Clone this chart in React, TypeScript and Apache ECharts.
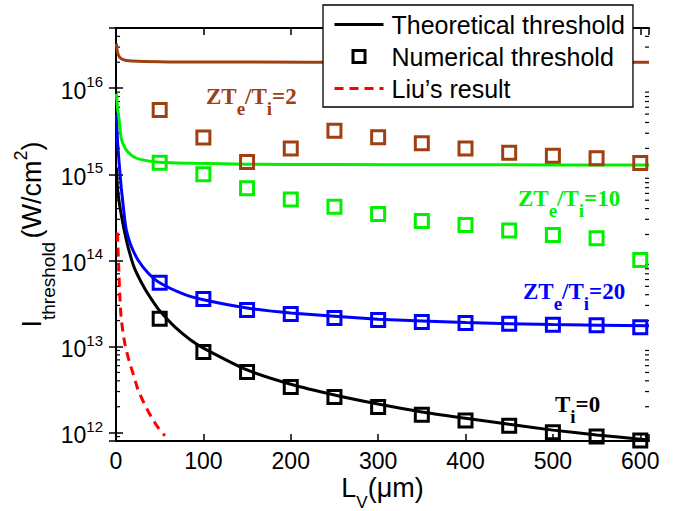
import React, { useEffect, useRef } from 'react';
import * as echarts from 'echarts';

// Vacuum length L_V (µm) at which the numerical thresholds were computed
const numericalL = [50, 100, 150, 200, 250, 300, 350, 400, 450, 500, 550, 600];

// Numerical thresholds (W/cm^2)
const numericalTi0 = [2.1e13, 8.65e12, 5.07e12, 3.4e12, 2.6e12, 1.99e12, 1.61e12, 1.38e12, 1.2e12, 1.01e12, 9.0e11, 8.1e11];
const numericalZ20 = [5.5e13, 3.57e13, 2.66e13, 2.39e13, 2.15e13, 2.04e13, 1.93e13, 1.88e13, 1.84e13, 1.79e13, 1.77e13, 1.68e13];
const numericalZ10 = [1.36e15, 1.0e15, 6.9e14, 5.1e14, 4.2e14, 3.45e14, 2.86e14, 2.57e14, 2.22e14, 1.98e14, 1.81e14, 1.01e14];
const numericalZ2 = [5.6e15, 2.67e15, 1.39e15, 2.0e15, 3.2e15, 2.7e15, 2.3e15, 2.0e15, 1.78e15, 1.64e15, 1.54e15, 1.35e15];

// Theoretical threshold curves: [L_V, I]
const theoryTi0 = [
  [0.5, 1.2e15], [1, 9e14], [2, 6.5e14], [4, 4.5e14], [7, 3e14], [10, 2.1e14], [14, 1.4e14],
  [21, 8.2e13], [33, 4.7e13], [44, 3.15e13], [50, 2.6e13], [67, 1.7e13], [85, 1.2e13],
  [100, 9.6e12], [150, 5.35e12], [200, 3.65e12], [250, 2.74e12], [300, 2.15e12], [350, 1.74e12],
  [400, 1.47e12], [450, 1.25e12], [500, 1.07e12], [550, 9.4e11], [600, 8.4e11], [610, 8.2e11],
];
const theoryZ20 = [
  [0.5, 5e15], [1, 3.5e15], [2, 2.2e15], [4, 1.2e15], [6, 7e14], [10, 3e14], [12, 2.2e14],
  [17, 1.5e14], [25, 1.02e14], [37, 7.1e13], [50, 5.5e13], [79, 4.0e13], [100, 3.5e13],
  [150, 2.8e13], [200, 2.45e13], [300, 2.08e13], [400, 1.9e13], [500, 1.8e13], [610, 1.74e13],
];
const theoryZ10 = [
  [0.5, 8.6e15], [1, 7.2e15], [2, 5.6e15], [3.4, 4.5e15], [6, 2.6e15], [10, 2.05e15], [14, 1.8e15],
  [20, 1.6e15], [29, 1.48e15], [50, 1.38e15], [90, 1.34e15], [150, 1.31e15], [250, 1.3e15],
  [400, 1.29e15], [610, 1.28e15],
];
const theoryZ2 = [
  [0.5, 3.3e16], [1, 2.9e16], [2, 2.55e16], [4, 2.3e16], [7, 2.18e16], [12, 2.1e16], [25, 2.05e16],
  [60, 2.02e16], [150, 2.01e16], [300, 2.0e16], [450, 2.0e16], [610, 2.0e16],
];

// Liu's analytical result: [L_V, I]
const liuResult = [
  [1.5, 2.1e14], [3, 9e13], [4.2, 4.2e13], [6, 2.1e13], [10, 1.1e13], [15, 6.8e12], [20, 4.7e12],
  [25, 3.2e12], [32, 2.2e12], [40, 1.55e12], [48, 1.15e12], [56, 9.2e11],
];

// Axis ranges and labelled decades
const xRange = [0, 610];
const yRange = [8e11, 5e16];
const yDecades = [12, 13, 14, 15, 16];

const BROWN = '#a04010';
const GREEN = '#00f000';
const BLUE = '#0000ff';
const BLACK = '#000000';
const RED = '#ff0000';

const SANS = '"Liberation Sans", Arial, Helvetica, sans-serif';
const SERIF = '"Liberation Serif", "Times New Roman", serif';

// Minor log ticks (2..9 x 10^n) inside the plotting box
const minorTicks: number[][] = [];
for (let e = 11; e <= 16; e++) {
  for (let m = 2; m <= 9; m++) {
    const v = m * Math.pow(10, e);
    if (v > yRange[0] && v < yRange[1]) minorTicks.push([0, v]);
  }
}

const pairs = (xs: number[], ys: number[]) => xs.map((x, i) => [x, ys[i]]);

const annotationRich = (color: string) => ({
  m: { fontSize: 23, fontWeight: 'bold', fontFamily: SERIF, fill: color, color, verticalAlign: 'top' },
  s: { fontSize: 19, fontWeight: 'bold', fontFamily: SERIF, fill: color, color, verticalAlign: 'top', padding: [14, 0, 0, 0] },
});

const annotation = (text: string, color: string, left: number, top: number) => ({
  type: 'text',
  left,
  top,
  z: 10,
  style: { text, rich: annotationRich(color), fill: color, font: `bold 23px ${SERIF}` },
});

const lineSeries = (name: string, data: number[][], color: string) => ({
  name,
  type: 'line',
  data,
  symbol: 'none',
  smooth: 0.2,
  lineStyle: { color, width: 3 },
  itemStyle: { color },
  z: 3,
});

const squareSeries = (name: string, ys: number[], color: string) => ({
  name,
  type: 'scatter',
  data: pairs(numericalL, ys),
  symbol: 'rect',
  symbolSize: 13,
  itemStyle: { color: 'rgba(0,0,0,0)', borderColor: color, borderWidth: 3, opacity: 1 },
  z: 4,
});

const yLabelFormatter = (v: number) => {
  const e = Math.log10(v);
  const r = Math.round(e);
  if (Math.abs(e - r) < 1e-6 && yDecades.includes(r)) return `{b|10}{p|${r}}`;
  return '';
};

export default function App() {
  const ref = useRef<HTMLDivElement>(null);

  useEffect(() => {
    if (!ref.current) return;
    const chart = echarts.init(ref.current, null, { renderer: 'svg' });

    const axisLine = { show: true, lineStyle: { color: BLACK, width: 2 } };
    const majorTick = { show: true, inside: true, length: 7, lineStyle: { color: BLACK, width: 1.5 } };

    chart.setOption({
      animation: false,
      backgroundColor: '#fff',
      grid: { left: 116, right: 31, top: 28, bottom: 70, containLabel: false, outerBoundsMode: 'none' },
      legend: {
        data: [
          {
            name: 'Theoretical threshold',
            itemStyle: { opacity: 0 },
            lineStyle: { width: 3, color: BLACK },
          },
          {
            name: 'Numerical threshold',
            icon: 'path://M0,0H10V10H0Z',
            itemStyle: { color: 'rgba(0,0,0,0)', borderColor: BLACK, borderWidth: 3, opacity: 1 },
          },
          {
            name: 'Liu’s result',
            itemStyle: { opacity: 0 },
            lineStyle: { width: 3, color: RED, type: [9, 6] },
          },
        ],
        orient: 'vertical',
        left: 323,
        top: 5,
        padding: [7, 8, 6, 10],
        itemGap: 7,
        itemWidth: 49,
        itemHeight: 12,
        backgroundColor: '#fff',
        borderColor: BLACK,
        borderWidth: 1.3,
        borderRadius: 0,
        selectedMode: false,
        textStyle: { fontSize: 25, fontFamily: SANS, color: BLACK, padding: [0, 0, 0, 3] },
        z: 20,
      },
      xAxis: [
        {
          type: 'value',
          min: xRange[0],
          max: xRange[1],
          interval: 100,
          axisLine,
          axisTick: majorTick,
          splitLine: { show: false },
          axisLabel: {
            fontSize: 23,
            fontFamily: SANS,
            color: BLACK,
            margin: 8,
            formatter: (v: number) => (v % 100 === 0 ? String(v) : ''),
          },
          name: '{m|L}{s|V}{m|(μm)}',
          nameLocation: 'middle',
          nameGap: 33,
          nameMoveOverlap: false,
          nameTextStyle: {
            rich: {
              m: { fontSize: 27, fontFamily: SANS, color: BLACK, verticalAlign: 'top' },
              s: { fontSize: 17, fontFamily: SANS, color: BLACK, verticalAlign: 'top', padding: [20, 0, 0, 0] },
            },
          },
        },
        {
          type: 'value',
          position: 'top',
          min: xRange[0],
          max: xRange[1],
          interval: 100,
          axisLine,
          axisTick: majorTick,
          axisLabel: { show: false },
          splitLine: { show: false },
        },
      ],
      yAxis: [
        {
          type: 'log',
          logBase: 10,
          min: yRange[0],
          max: yRange[1],
          axisLine,
          axisTick: majorTick,
          splitLine: { show: false },
          minorTick: { show: false },
          axisLabel: {
            margin: 13,
            formatter: yLabelFormatter,
            rich: {
              b: { fontSize: 23, fontFamily: SANS, color: BLACK, verticalAlign: 'top', padding: [5, 0, 0, 0] },
              p: { fontSize: 15, fontFamily: SANS, color: BLACK, verticalAlign: 'top' },
            },
          },
          name: '{m|I}{s|threshold} {m|(W/cm}{p|2}{m|)}',
          nameLocation: 'middle',
          nameRotate: 90,
          nameGap: 58,
          nameMoveOverlap: false,
          nameTextStyle: {
            rich: {
              m: { fontSize: 27, fontFamily: SANS, color: BLACK, verticalAlign: 'top', padding: [6, 0, 0, 0] },
              s: { fontSize: 19, fontFamily: SANS, color: BLACK, verticalAlign: 'top', padding: [27, 0, 0, 0] },
              p: { fontSize: 18, fontFamily: SANS, color: BLACK, verticalAlign: 'top' },
            },
          },
        },
        {
          type: 'log',
          logBase: 10,
          position: 'right',
          min: yRange[0],
          max: yRange[1],
          axisLine,
          axisTick: majorTick,
          axisLabel: { show: false },
          splitLine: { show: false },
        },
      ],
      series: [
        lineSeries('Theoretical threshold', theoryTi0, BLACK),
        lineSeries('ZTe/Ti=20 theoretical', theoryZ20, BLUE),
        lineSeries('ZTe/Ti=10 theoretical', theoryZ10, GREEN),
        lineSeries('ZTe/Ti=2 theoretical', theoryZ2, BROWN),
        {
          name: 'Liu’s result',
          type: 'line',
          data: liuResult,
          symbol: 'none',
          smooth: 0.2,
          lineStyle: { color: RED, width: 3, type: [9, 6] },
          itemStyle: { color: RED },
          z: 3,
        },
        squareSeries('Numerical threshold', numericalTi0, BLACK),
        squareSeries('ZTe/Ti=20 numerical', numericalZ20, BLUE),
        squareSeries('ZTe/Ti=10 numerical', numericalZ10, GREEN),
        squareSeries('ZTe/Ti=2 numerical', numericalZ2, BROWN),
        {
          name: 'minor ticks',
          type: 'custom',
          data: minorTicks,
          silent: true,
          z: 1,
          renderItem: (params: any, api: any) => {
            const p = api.coord([0, api.value(1)]);
            const cs = params.coordSys;
            const style = { stroke: BLACK, lineWidth: 1.2 };
            return {
              type: 'group',
              children: [
                { type: 'line', shape: { x1: cs.x, y1: p[1], x2: cs.x + 4, y2: p[1] }, style },
                { type: 'line', shape: { x1: cs.x + cs.width - 4, y1: p[1], x2: cs.x + cs.width, y2: p[1] }, style },
              ],
            };
          },
        },
      ],
      graphic: [
        annotation('{m|ZT}{s|e}{m|/T}{s|i}{m|=2}', BROWN, 206, 85),
        annotation('{m|ZT}{s|e}{m|/T}{s|i}{m|=10}', GREEN, 518, 187),
        annotation('{m|ZT}{s|e}{m|/T}{s|i}{m|=20}', BLUE, 523, 280),
        annotation('{m|T}{s|i}{m|=0}', BLACK, 555, 393),
      ],
    });

    return () => chart.dispose();
  }, []);

  return <div ref={ref} style={{ width: 680, height: 511, position: 'absolute', left: 0, top: 0 }} />;
}
